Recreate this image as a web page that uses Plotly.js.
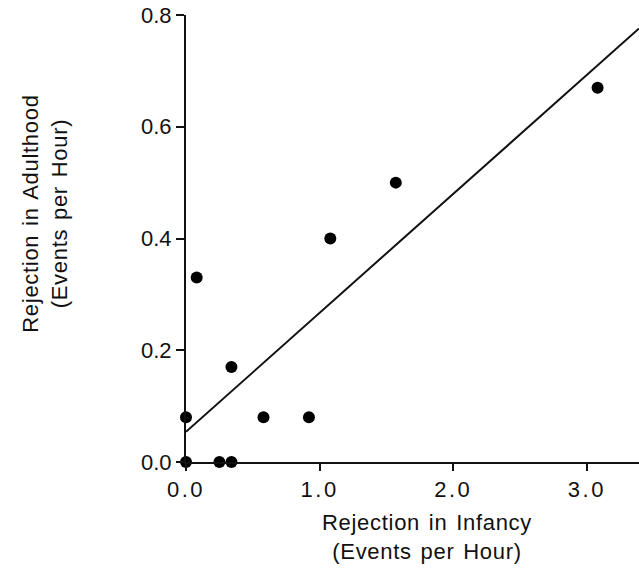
<!DOCTYPE html>
<html>
<head>
<meta charset="utf-8">
<script src="https://cdn.plot.ly/plotly-3.0.1.min.js"></script>
<style>
html, body { margin: 0; padding: 0; background: #fff; }
#chart { width: 639px; height: 569px; }
#chart .xtick text { letter-spacing: 2.5px; }
#chart .annotation-text { letter-spacing: 0.7px; word-spacing: 2px; }
</style>
</head>
<body>
<div id="chart"></div>
<script>
// Observed data points (Rejection in Infancy vs Rejection in Adulthood, events per hour)
var infancy   = [0.00, 0.00, 0.25, 0.34, 0.34, 0.58, 0.92, 0.08, 1.08, 1.57, 3.08];
var adulthood = [0.00, 0.08, 0.00, 0.00, 0.17, 0.08, 0.08, 0.33, 0.40, 0.50, 0.67];

// Regression line end points
var fitX = [0.00, 3.39];
var fitY = [0.054, 0.776];

// Tick labels
var xTickVals = [0, 1, 2, 3];
var xTickText = ["0.0", "1.0", "2.0", "3.0"];
var yTickVals = [0, 0.2, 0.4, 0.6, 0.8];
var yTickText = ["0.0", "0.2", "0.4", "0.6", "0.8"];

// Axis titles
var xTitle = "Rejection in Infancy<br>(Events per Hour)";
var yTitle = "Rejection in Adulthood<br>(Events per Hour)";

var FONT = "Liberation Sans, Arial, Helvetica, sans-serif";

var traces = [
  {
    x: fitX, y: fitY, type: "scatter", mode: "lines",
    line: { color: "#111", width: 2 },
    cliponaxis: false, hoverinfo: "skip", showlegend: false
  },
  {
    x: infancy, y: adulthood, type: "scatter", mode: "markers",
    marker: { color: "#000", size: 12 },
    cliponaxis: false, showlegend: false
  }
];

var layout = {
  width: 639, height: 569,
  margin: { l: 186, r: 0, t: 15, b: 107 },
  paper_bgcolor: "#fff", plot_bgcolor: "#fff",
  font: { family: FONT, size: 22, color: "#111" },
  showlegend: false,
  xaxis: {
    range: [0, 3.39],
    tickvals: xTickVals, ticktext: xTickText,
    showgrid: false, zeroline: false,
    showline: true, linecolor: "#111", linewidth: 2,
    ticks: "outside", ticklen: 7, tickwidth: 2, tickcolor: "#111",
    tickfont: { family: FONT, size: 22, color: "#111" }
  },
  yaxis: {
    range: [0, 0.8],
    tickvals: yTickVals, ticktext: yTickText,
    showgrid: false, zeroline: false,
    showline: true, linecolor: "#111", linewidth: 2,
    ticks: "outside", ticklen: 8, tickwidth: 2, tickcolor: "#111",
    tickfont: { family: FONT, size: 22, color: "#111" }
  },
  annotations: [
    {
      text: xTitle, xref: "paper", yref: "paper",
      x: 0.532, y: -0.104, xanchor: "center", yanchor: "top",
      showarrow: false, align: "center",
      font: { family: FONT, size: 22, color: "#111" }
    },
    {
      text: yTitle, xref: "paper", yref: "paper",
      x: -0.311, y: 0.555, xanchor: "center", yanchor: "middle",
      textangle: -90, showarrow: false, align: "center",
      font: { family: FONT, size: 22, color: "#111" }
    }
  ]
};

Plotly.newPlot("chart", traces, layout, { displayModeBar: false, staticPlot: true });
</script>
</body>
</html>
